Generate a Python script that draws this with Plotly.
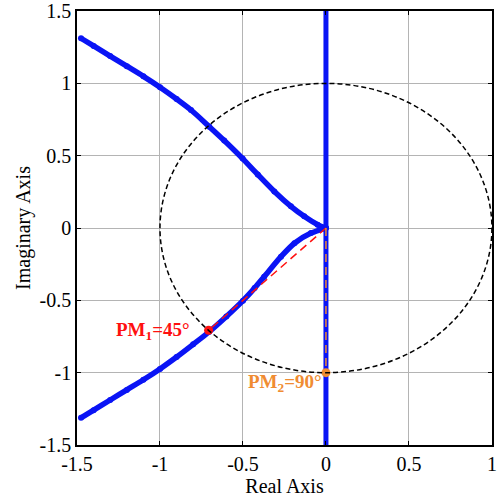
import plotly.graph_objects as go

# Upper branch
upper_re = [-1.476, -1.40, -1.30, -1.20, -1.10, -1.00, -0.90, -0.813, -0.703, -0.613, -0.502,
            -0.411, -0.311, -0.211, -0.131, -0.05, 0.0]
upper_im = [1.312, 1.259, 1.189, 1.119, 1.049, 0.974, 0.892, 0.816, 0.701, 0.605, 0.48,
            0.37, 0.253, 0.150, 0.081, 0.023, 0.0]
# Lower branch
lower_re = [-1.476, -1.40, -1.30, -1.20, -1.10, -1.00, -0.90, -0.80, -0.703, -0.60,
            -0.50, -0.43, -0.372, -0.271, -0.19, -0.09, 0.0]
lower_im = [-1.312, -1.259, -1.189, -1.119, -1.049, -0.974, -0.892, -0.804, -0.717, -0.612,
            -0.502, -0.415, -0.336, -0.198, -0.105, -0.035, 0.0]
# Imaginary-axis branch
imag_re = [0.0, 0.0]
imag_im = [-1.5, 1.5]
# Phase margin points
pm1_re, pm1_im = -0.707, -0.707
pm2_re, pm2_im = 0.0, -1.0

x_ticks = [-1.5, -1, -0.5, 0, 0.5, 1]
x_labels = ["-1.5", "-1", "-0.5", "0", "0.5", "1"]
y_ticks = [-1.5, -1, -0.5, 0, 0.5, 1, 1.5]
y_labels = ["-1.5", "-1", "-0.5", "0", "0.5", "1", "1.5"]

BLUE = "#0a14f5"
RED = "#ff1010"
ORANGE = "#f08c32"
FONT = "Liberation Serif"

fig = go.Figure()
fig.add_shape(type="circle", x0=-1, y0=-1, x1=1, y1=1, xref="x", yref="y",
              line=dict(color="black", width=1.5, dash="5px,3px"), layer="above")
for re, im in [(upper_re, upper_im), (lower_re, lower_im)]:
    fig.add_trace(go.Scatter(x=re, y=im, mode="lines+markers",
                             line=dict(color=BLUE, width=5.5, shape="spline", smoothing=0.8),
                             marker=dict(color=BLUE, size=6), hoverinfo="skip"))
fig.add_trace(go.Scatter(x=imag_re, y=imag_im, mode="lines",
                         line=dict(color=BLUE, width=5), hoverinfo="skip"))
fig.add_trace(go.Scatter(x=[0, pm1_re], y=[0, pm1_im], mode="lines",
                         line=dict(color=RED, width=1.5, dash="8px,5px")))
fig.add_trace(go.Scatter(x=[0, pm2_re], y=[0, pm2_im], mode="lines",
                         line=dict(color=ORANGE, width=1.5, dash="8px,5px")))
fig.add_trace(go.Scatter(x=[pm1_re], y=[pm1_im], mode="markers",
                         marker=dict(color=RED, size=9)))
fig.add_trace(go.Scatter(x=[pm2_re], y=[pm2_im], mode="markers",
                         marker=dict(color=ORANGE, size=9)))

fig.add_annotation(x=-0.81, y=-0.71, xref="x", yref="y", text="<b>PM<sub>1</sub>=45°</b>",
                   showarrow=False, xanchor="right", yanchor="middle",
                   font=dict(family=FONT, size=19, color=RED))
fig.add_annotation(x=-0.012, y=-1.07, xref="x", yref="y", text="<b>PM<sub>2</sub>=90°</b>",
                   showarrow=False, xanchor="right", yanchor="middle",
                   font=dict(family=FONT, size=19, color=ORANGE))

axis_common = dict(showgrid=True, gridcolor="#b4b4b4", gridwidth=1,
                   showline=True, linecolor="black", linewidth=1.5, mirror="ticks",
                   ticks="inside", ticklen=4, tickcolor="black", zeroline=False,
                   ticklabeloverflow="allow", automargin=False,
                   tickfont=dict(family=FONT, size=20, color="black"))
fig.update_xaxes(range=[-1.5, 1.0005], tickvals=x_ticks, ticktext=x_labels,
                 title=dict(text="Real Axis", font=dict(family=FONT, size=20, color="black"), standoff=0),
                 **axis_common)
fig.update_yaxes(range=[-1.5, 1.5005], tickvals=y_ticks, ticktext=y_labels,
                 title=dict(text="Imaginary Axis", font=dict(family=FONT, size=20, color="black"), standoff=4),
                 **axis_common)
fig.update_layout(width=497, height=497, margin=dict(l=77, r=5, t=11, b=52),
                  plot_bgcolor="white", paper_bgcolor="white", showlegend=False)
fig.write_html("out.html")
